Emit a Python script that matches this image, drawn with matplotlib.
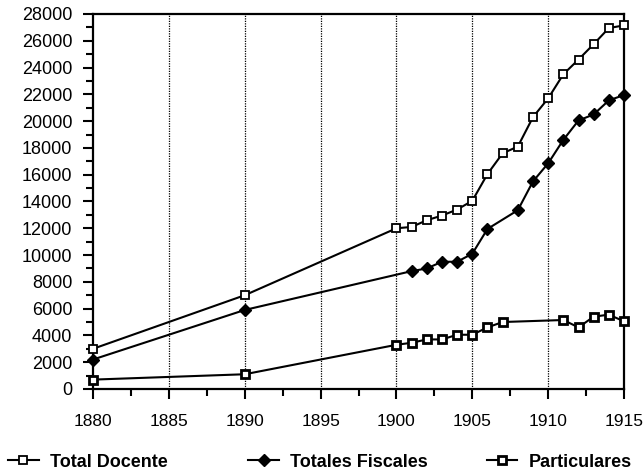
import matplotlib
matplotlib.use("Agg")
import matplotlib.pyplot as plt
from matplotlib.ticker import MultipleLocator

plt.rcParams['font.family'] = ['Liberation Sans', 'DejaVu Sans']

years_total = [1880, 1890, 1900, 1901, 1902, 1903, 1904, 1905, 1906, 1907,
               1908, 1909, 1910, 1911, 1912, 1913, 1914, 1915]
total_docente = [3000, 7000, 12000, 12100, 12600, 12950, 13400, 14050, 16050, 17600,
                 18100, 20300, 21700, 23500, 24600, 25750, 26950, 27150]

years_fiscal = [1880, 1890, 1901, 1902, 1903, 1904, 1905, 1906, 1908, 1909,
                1910, 1911, 1912, 1913, 1914, 1915]
totales_fiscales = [2200, 5900, 8800, 9000, 9500, 9500, 10100, 11950, 13350, 15500,
                    16850, 18600, 20050, 20500, 21550, 21950]

years_part = [1880, 1890, 1900, 1901, 1902, 1903, 1904, 1905, 1906, 1907,
              1911, 1912, 1913, 1914, 1915]
particulares = [700, 1100, 3300, 3450, 3700, 3700, 4050, 4050, 4600, 5000,
                5150, 4600, 5400, 5550, 5050]

grid_years = [1885, 1890, 1895, 1900, 1905, 1910]
x_ticks = [1880, 1885, 1890, 1895, 1900, 1905, 1910, 1915]
y_ticks = list(range(0, 28001, 2000))

fig = plt.figure(figsize=(6.43, 4.76), dpi=100)
ax = fig.add_axes([0.1446, 0.1828, 0.8259, 0.7878])

for g in grid_years:
    ax.axvline(g, color='black', linestyle=(0, (1, 1)), linewidth=0.9, zorder=1)

l1, = ax.plot(years_total, total_docente, color='black', lw=1.5, marker='s', ms=6,
              mfc='white', mec='black', mew=1.3, label='Total Docente', zorder=3,
              clip_on=False)
l2, = ax.plot(years_fiscal, totales_fiscales, color='black', lw=1.5, marker='D', ms=6,
              mfc='black', mec='black', label='Totales Fiscales', zorder=3,
              clip_on=False)
l3, = ax.plot(years_part, particulares, color='black', lw=1.5, marker='s', ms=6,
              mfc='white', mec='black', mew=2.0, label='Particulares', zorder=3,
              clip_on=False)

ax.set_xlim(1880, 1915)
ax.set_ylim(0, 28000)
ax.set_xticks(x_ticks)
ax.set_yticks(y_ticks)
ax.xaxis.set_minor_locator(MultipleLocator(2.5))
ax.yaxis.set_minor_locator(MultipleLocator(1000))
ax.tick_params(axis='both', which='major', direction='out', length=7, width=1.5)
ax.tick_params(axis='both', which='minor', direction='out', length=5, width=1.5)
ax.tick_params(axis='y', labelsize=13, pad=8)
ax.tick_params(axis='x', labelsize=12.5, pad=11)
for s in ax.spines.values():
    s.set_linewidth(1.6)

legend_x = [0.0124, 0.386, 0.757]
for h, lx in zip([l1, l2, l3], legend_x):
    lg = fig.legend(handles=[h], loc='center left', bbox_to_anchor=(lx, 0.029),
                    frameon=False, handlelength=1.7, handletextpad=0.6,
                    borderpad=0, borderaxespad=0,
                    prop={'weight': 'bold', 'size': 13})

fig.savefig('out.png', dpi=100)
